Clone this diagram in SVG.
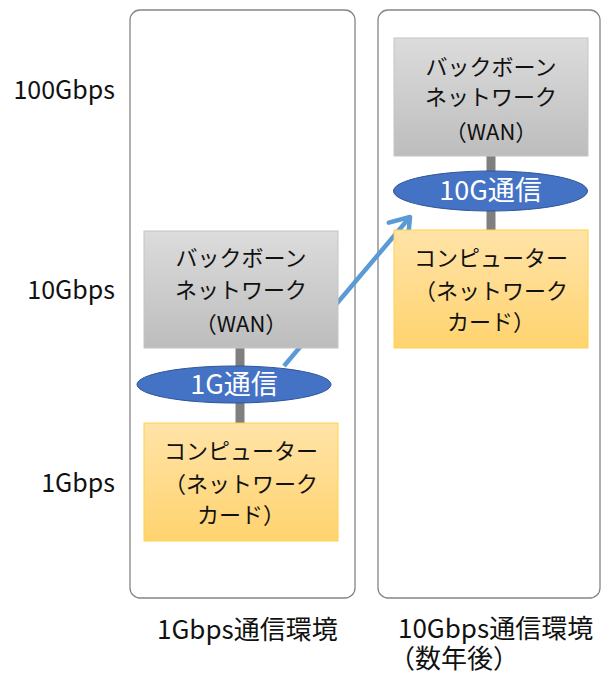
<svg xmlns="http://www.w3.org/2000/svg" width="609" height="675" viewBox="0 0 609 675">
  <defs>
    <linearGradient id="gGray" x1="0" y1="0" x2="0" y2="1">
      <stop offset="0" stop-color="#dcdcdc"/>
      <stop offset="1" stop-color="#bdbdbd"/>
    </linearGradient>
    <linearGradient id="gOrange" x1="0" y1="0" x2="0" y2="1">
      <stop offset="0" stop-color="#ffe3a8"/>
      <stop offset="1" stop-color="#ffd36e"/>
    </linearGradient>
    <marker id="arrowHead" viewBox="-26 -17 30 34" refX="0" refY="0" markerWidth="30" markerHeight="34" orient="auto" markerUnits="userSpaceOnUse">
      <path d="M-18,-12.6 L0,0 L-18,12.6" fill="none" stroke="#5b9bd5" stroke-width="4.5" stroke-linecap="round" stroke-linejoin="round"/>
    </marker>
  </defs>
  <style>
    text { font-family: "Noto Sans CJK JP", "Liberation Sans", sans-serif; fill: #111; }
    .panel { fill: #ffffff; stroke: #858585; stroke-width: 1.3; }
    .wan { fill: url(#gGray); stroke: #c4c4c4; stroke-width: 1; }
    .pc { fill: url(#gOrange); stroke: #ffd24d; stroke-width: 1; }
    .link { stroke: #7f7f7f; stroke-width: 9; }
    .speed { fill: #4472c4; stroke: #2f5597; stroke-width: 1; }
    .box { font-size: 22px; text-anchor: middle; }
    .spd { font-size: 27px; text-anchor: middle; fill: #ffffff; }
    .axis { font-size: 25px; text-anchor: end; }
    .cap { font-size: 26px; }
  </style>

  <!-- speed scale -->
  <g id="scale">
    <text class="axis" x="115" y="99">100Gbps</text>
    <text class="axis" x="115" y="299">10Gbps</text>
    <text class="axis" x="115" y="492">1Gbps</text>
  </g>

  <!-- environment panels -->
  <g id="panel-1g">
    <rect class="panel" x="130" y="10" width="225" height="588" rx="10"/>
    <text class="cap" x="157" y="639">1Gbps通信環境</text>
  </g>
  <g id="panel-10g">
    <rect class="panel" x="378" y="10" width="222" height="588" rx="10"/>
    <text class="cap" x="398" y="638">10Gbps通信環境</text>
    <text class="cap" x="389" y="668">（数年後）</text>
  </g>

  <!-- connectors -->
  <g id="connectors">
    <line class="link" x1="240" y1="348" x2="240" y2="423"/>
    <line class="link" x1="491" y1="156" x2="491" y2="230"/>
    <line x1="284" y1="366" x2="410" y2="217" stroke="#5b9bd5" stroke-width="4.5" marker-end="url(#arrowHead)"/>
  </g>

  <!-- 1Gbps environment -->
  <g id="wan-1g">
    <rect class="wan" x="144" y="231" width="194" height="117"/>
    <text class="box" x="241" y="266">バックボーン</text>
    <text class="box" x="241" y="298">ネットワーク</text>
    <text class="box" x="241" y="332">（WAN）</text>
  </g>
  <g id="link-1g">
    <ellipse class="speed" cx="234" cy="384.5" rx="97" ry="18.5"/>
    <text class="spd" x="234" y="394">1G通信</text>
  </g>
  <g id="pc-1g">
    <rect class="pc" x="144" y="423" width="194" height="118"/>
    <text class="box" x="241" y="459">コンピューター</text>
    <text class="box" x="241" y="492">（ネットワーク</text>
    <text class="box" x="241" y="523">カード）</text>
  </g>

  <!-- 10Gbps environment -->
  <g id="wan-10g">
    <rect class="wan" x="394" y="38" width="194" height="118"/>
    <text class="box" x="491" y="75">バックボーン</text>
    <text class="box" x="491" y="105">ネットワーク</text>
    <text class="box" x="491" y="140">（WAN）</text>
  </g>
  <g id="link-10g">
    <ellipse class="speed" cx="490.5" cy="191" rx="97" ry="20"/>
    <text class="spd" x="490.5" y="200">10G通信</text>
  </g>
  <g id="pc-10g">
    <rect class="pc" x="394" y="230" width="194" height="118"/>
    <text class="box" x="491" y="266">コンピューター</text>
    <text class="box" x="491" y="299">（ネットワーク</text>
    <text class="box" x="491" y="330">カード）</text>
  </g>
</svg>
